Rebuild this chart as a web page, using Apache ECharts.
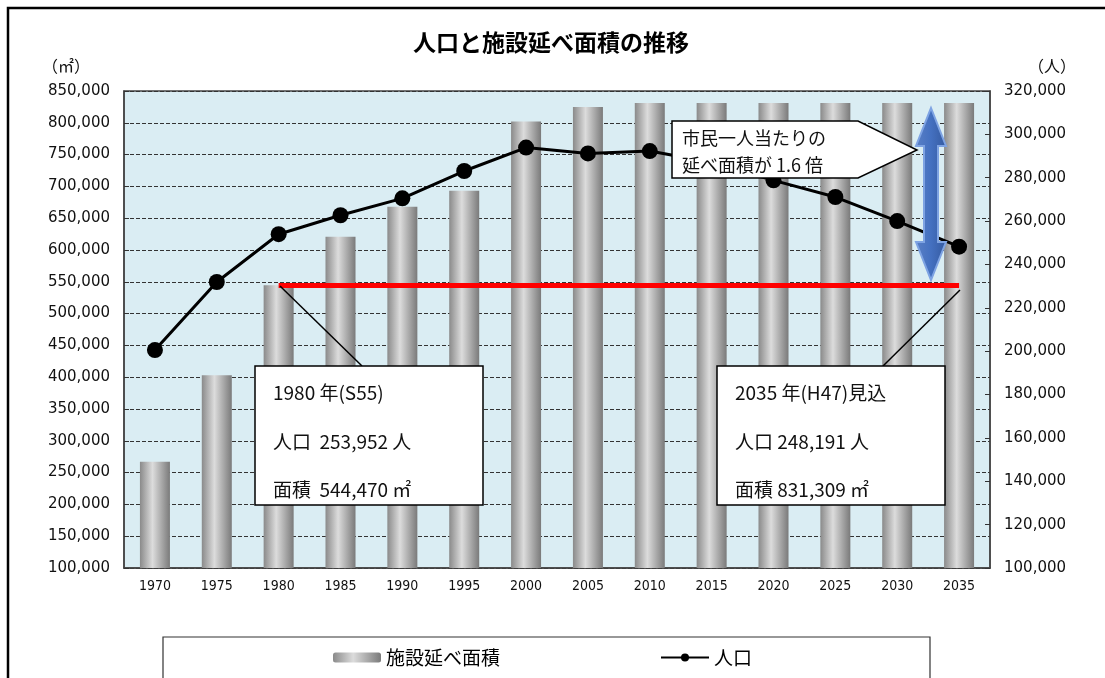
<!DOCTYPE html>
<html>
<head>
<meta charset="utf-8">
<script src="https://cdn.jsdelivr.net/npm/echarts@6/dist/echarts.min.js"></script>
<style>
  html, body { margin: 0; padding: 0; background: #fff; }
  #chart { width: 1105px; height: 678px; }
</style>
</head>
<body>
<div id="chart"></div>
<script>
// 年次
const years = ['1970', '1975', '1980', '1985', '1990', '1995', '2000', '2005', '2010', '2015', '2020', '2025', '2030', '2035'];
// 施設延べ面積（㎡）
const floorArea = [267000, 403000, 544470, 621000, 668000, 693000, 802000, 825000, 831000, 831309, 831309, 831309, 831309, 831309];
// 人口（人）
const population = [200500, 231900, 253952, 262700, 270500, 283100, 293900, 291200, 292300, 287000, 278800, 271100, 260000, 248191];
// 1980年の面積基準線
const baseArea = 544470;

const jp = '"Noto Sans CJK JP", sans-serif';
const num = '"DejaVu Sans", sans-serif';

let chart = echarts.init(document.getElementById('chart'));

let barColor = new echarts.graphic.LinearGradient(0, 0, 1, 0, [
  { offset: 0, color: '#8a8a8a' },
  { offset: 0.42, color: '#dcdcdc' },
  { offset: 1, color: '#7a7a7a' }
]);

// 吹き出し内の文字
function label(x, y, text, size) {
  return { type: 'text', z: 101, x: x, y: y,
    style: { text: text, font: size + 'px ' + jp, fill: '#111', textVerticalAlign: 'middle' } };
}

let option = {
  animation: false,
  title: {
    text: '人口と施設延べ面積の推移',
    left: 408,
    top: 26,
    textStyle: { fontFamily: jp, fontSize: 23, fontWeight: 'bold', color: '#000' }
  },
  legend: {
    data: ['施設延べ面積', '人口'],
    left: 328,
    top: 643,
    itemWidth: 48,
    itemHeight: 10,
    itemGap: 160,
    textStyle: { fontFamily: jp, fontSize: 19, color: '#000' }
  },
  grid: {
    left: 124,
    right: 115,
    top: 91,
    bottom: 110,
    show: true,
    backgroundColor: '#daedf3',
    borderColor: '#444',
    borderWidth: 1.5
  },
  xAxis: {
    type: 'category',
    data: years,
    boundaryGap: true,
    axisLine: { lineStyle: { color: '#444', width: 1.5 } },
    axisTick: { inside: true, length: 5, lineStyle: { color: '#333' } },
    axisLabel: { fontFamily: '"DejaVu Sans Condensed", "Noto Sans", sans-serif', fontSize: 14, color: '#111', margin: 11 }
  },
  yAxis: [
    {
      type: 'value',
      min: 100000,
      max: 850000,
      interval: 50000,
      axisLine: { show: true, lineStyle: { color: '#444', width: 1.5 } },
      axisTick: { show: true, inside: true, length: 5, lineStyle: { color: '#333' } },
      axisLabel: {
        fontFamily: num, fontSize: 15, color: '#111', margin: 14,
        formatter: v => v.toLocaleString('en-US')
      },
      splitLine: { lineStyle: { color: '#333', type: [4, 2], width: 1 } }
    },
    {
      type: 'value',
      min: 100000,
      max: 320000,
      interval: 20000,
      position: 'right',
      axisLine: { show: true, lineStyle: { color: '#444', width: 1.5 } },
      axisTick: { show: true, inside: true, length: 5, lineStyle: { color: '#333' } },
      axisLabel: {
        fontFamily: num, fontSize: 15, color: '#111', margin: 14,
        formatter: v => v.toLocaleString('en-US')
      },
      splitLine: { show: false }
    }
  ],
  series: [
    {
      name: '施設延べ面積',
      type: 'bar',
      yAxisIndex: 0,
      data: floorArea,
      barWidth: 30,
      itemStyle: { color: barColor },
      markLine: {
        silent: true,
        symbol: 'none',
        label: { show: false },
        lineStyle: { color: '#ff0000', width: 5, type: 'solid' },
        data: [[{ coord: ['1980', baseArea] }, { coord: ['2035', baseArea] }]]
      }
    },
    {
      name: '人口',
      type: 'line',
      yAxisIndex: 1,
      data: population,
      symbol: 'circle',
      symbolSize: 16,
      lineStyle: { color: '#000', width: 3 },
      itemStyle: { color: '#000' },
      z: 5
    }
  ],
  graphic: [
    // 外枠
    { type: 'rect', z: 100, shape: { x: 8, y: 8, width: 1120, height: 720 },
      style: { fill: 'none', stroke: '#000', lineWidth: 2.5 } },
    // 単位
    { type: 'text', z: 100, x: 42, y: 58, style: { text: '（㎡）', font: '16px ' + jp, fill: '#111' } },
    { type: 'text', z: 100, x: 1028, y: 58, style: { text: '（人）', font: '16px ' + jp, fill: '#111' } },
    // 凡例の枠
    { type: 'rect', z: 1, shape: { x: 163, y: 637, width: 767, height: 60 },
      style: { fill: '#fff', stroke: '#333', lineWidth: 1.2 } },
    // 引出線
    { type: 'line', z: 100, shape: { x1: 280, y1: 286, x2: 362, y2: 366 }, style: { stroke: '#000', lineWidth: 1.5 } },
    { type: 'line', z: 100, shape: { x1: 960, y1: 290, x2: 883, y2: 366 }, style: { stroke: '#000', lineWidth: 1.5 } },
    // 1980年の吹き出し
    { type: 'rect', z: 100, shape: { x: 255, y: 366, width: 228, height: 139 },
      style: { fill: '#fff', stroke: '#000', lineWidth: 1.5 } },
    label(273, 393, '1980 年(S55)', 19),
    label(273, 442, '人口  253,952 人', 19),
    label(273, 490, '面積  544,470 ㎡', 19),
    // 2035年の吹き出し
    { type: 'rect', z: 100, shape: { x: 717, y: 366, width: 228, height: 139 },
      style: { fill: '#fff', stroke: '#000', lineWidth: 1.5 } },
    label(735, 393, '2035 年(H47)見込', 19),
    label(735, 442, '人口 248,191 人', 19),
    label(735, 490, '面積 831,309 ㎡', 19),
    // 一人当たりの吹き出し
    { type: 'polygon', z: 100, shape: { points: [[672, 121], [858, 121], [917, 150], [858, 178], [672, 178]] },
      style: { fill: '#fff', stroke: '#000', lineWidth: 1.5 } },
    label(682, 138, '市民一人当たりの', 18),
    label(682, 165, '延べ面積が 1.6 倍', 18),
    // 両矢印
    { type: 'polygon', z: 100,
      shape: { points: [[931, 108], [946, 146], [938, 146], [938, 242], [946, 242], [931, 280], [916, 242], [924, 242], [924, 146], [916, 146]] },
      style: {
        fill: new echarts.graphic.LinearGradient(0, 0, 1, 0, [
          { offset: 0, color: '#5a80c6' },
          { offset: 0.5, color: '#4470c0' },
          { offset: 1, color: '#34599e' }
        ]),
        stroke: '#7ea3e3', lineWidth: 2
      } }
  ]
};

chart.setOption(option);
</script>
</body>
</html>
